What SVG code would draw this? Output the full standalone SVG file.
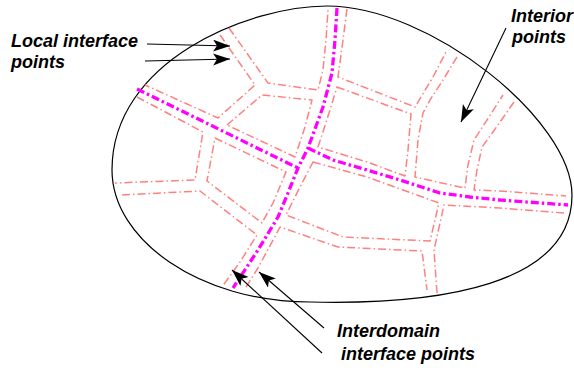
<svg xmlns="http://www.w3.org/2000/svg" width="574" height="371" viewBox="0 0 574 371">
<style>
.bd{fill:none;stroke:#000;stroke-width:1.2}
.loc{fill:none;stroke:#ff8080;stroke-width:1.5;stroke-dasharray:8 3 1.5 3;stroke-linejoin:round}
.itf{fill:none;stroke:#ff00ff;stroke-width:3.3;stroke-dasharray:8 3 2.5 3;stroke-linejoin:round}
.lbl{font-family:"Liberation Sans",Arial,sans-serif;font-size:18px;font-weight:bold;font-style:italic;fill:#000}
.arr{fill:none;stroke:#000;stroke-width:1.1;marker-end:url(#ah)}
</style>
<defs>
<marker id="ah" markerWidth="18" markerHeight="13" refX="17" refY="6" orient="auto" markerUnits="userSpaceOnUse">
<path d="M0,0 L17,6 L0,12 L4,6 z" fill="#000"/>
</marker>
</defs>
<g id="domain">
<path class="bd" d="M327,6 C430,6 572,120 572,195 C572,285 440,305 310,302 C200,302 112,240 112,170 C112,60 250,6 327,6 Z"/>
</g>
<g id="cells">
<g id="cell-a"><polyline class="loc" points="229,28 268,83 318,90 323,70 326,40 328,10"/></g>
<g id="cell-b"><polyline class="loc" points="220,35 255,85 218,118 145,85"/></g>
<g id="cell-c"><polygon class="loc" points="227,125 262,95 312,100 305,127 295,157"/></g>
<g id="cell-d"><polyline class="loc" points="137,97 203,132 195,180 115,183"/></g>
<g id="cell-e"><polygon class="loc" points="215,138 286,172 273,203 262,223 207,181"/></g>
<g id="cell-f"><polyline class="loc" points="122,195 200,191 257,235 240,262 222,287"/></g>
<g id="cell-g"><polygon class="loc" points="313,162 367,177 439,203 430,241 343,237 286,215 300,187"/></g>
<g id="cell-h"><polyline class="loc" points="564,213 500,208 444,205 434,250 437,293"/></g>
<g id="cell-i"><polyline class="loc" points="246,287 258,268 280,227 338,247 422,251 427,290"/></g>
<g id="cell-j"><polyline class="loc" points="347,9 343,40 338,77 415,107 433,77 446,52"/></g>
<g id="cell-k"><polygon class="loc" points="337,87 411,114 408,150 405,176 367,162 318,147 330,110"/></g>
<g id="cell-l"><polyline class="loc" points="457,57 443,80 430,100 423,113 418,140 415,177 460,187 465,188 468,165 474,140 487,120 503,95"/></g>
<g id="cell-m"><polyline class="loc" points="514,102 493,132 482,147 477,170 474,190 500,191 566,196"/></g>
</g>
<g id="interdomain">
<polyline class="itf" points="337,8 335,40 332,73 323,107 308,148 298,168 288,193 278,217 258,250 233,288"/>
<polyline class="itf" points="137,89 298,168"/>
<polyline class="itf" points="308,148 333,160 367,170 400,180 440,193 470,197 500,200 568,205"/>
</g>
<g id="labels">
<g id="label-local"><text class="lbl" x="11" y="47">Local interface</text><text class="lbl" x="11" y="68">points</text></g>
<g id="label-interior"><text class="lbl" x="511" y="22">Interior</text><text class="lbl" x="512" y="43">points</text></g>
<g id="label-interdomain"><text class="lbl" x="337" y="337">Interdomain</text><text class="lbl" x="341" y="360">interface points</text></g>
</g>
<g id="connectors">
<line class="arr" x1="147" y1="44" x2="230" y2="46"/>
<line class="arr" x1="145" y1="61" x2="230" y2="59"/>
<line class="arr" x1="506" y1="28" x2="461" y2="122"/>
<line class="arr" x1="322" y1="353" x2="232" y2="270"/>
<line class="arr" x1="324" y1="328" x2="259" y2="272"/>
</g>
</svg>
